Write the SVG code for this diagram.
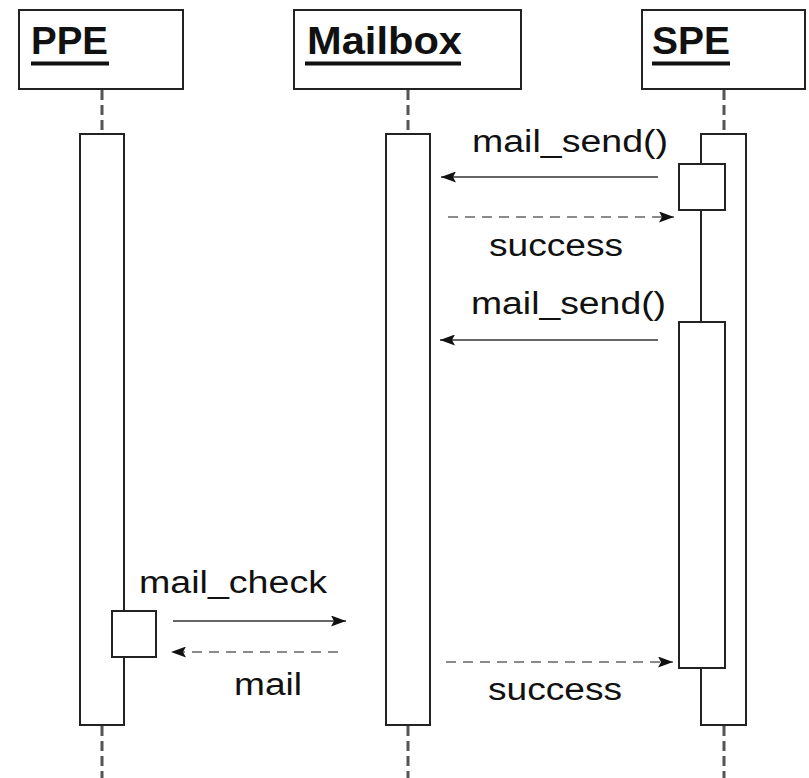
<svg xmlns="http://www.w3.org/2000/svg" width="809" height="778" viewBox="0 0 809 778">
  <style>
    .head { fill: #fff; stroke: #222; stroke-width: 2; }
    .bar { fill: #fff; stroke: #222; stroke-width: 2; }
    .life { stroke: #555; stroke-width: 3; stroke-dasharray: 10 5; fill: none; }
    .title { font-family: "Liberation Sans", Arial, sans-serif; font-weight: bold; font-size: 38px; fill: #111; }
    .uline { stroke: #111; stroke-width: 4; }
    .lbl { font-family: "Liberation Sans", Arial, sans-serif; font-size: 31px; fill: #111; }
    .call { stroke: #333; stroke-width: 1.6; fill: none; }
    .ret { stroke: #666; stroke-width: 1.6; stroke-dasharray: 10 7; fill: none; }
  </style>
  <defs>
    <marker id="arrow" viewBox="0 0 15 11" refX="15" refY="5.5" markerWidth="15" markerHeight="11" markerUnits="userSpaceOnUse" orient="auto">
      <path d="M0,0 L15,5.5 L0,11 L3,5.5 Z" fill="#111"/>
    </marker>
  </defs>
  <rect width="809" height="778" fill="#fff"/>

  <!-- lifelines -->
  <g id="lifelines">
    <line class="life" x1="102" y1="90" x2="102" y2="133"/>
    <line class="life" x1="102" y1="726" x2="102" y2="778"/>
    <line class="life" x1="408" y1="90" x2="408" y2="133"/>
    <line class="life" x1="408" y1="726" x2="408" y2="778"/>
    <line class="life" x1="724" y1="90" x2="724" y2="133"/>
    <line class="life" x1="724" y1="726" x2="724" y2="778"/>
  </g>

  <!-- participant PPE -->
  <g id="ppe">
    <rect class="head" x="19" y="10" width="164" height="79"/>
    <text class="title" x="31" y="54" textLength="77" lengthAdjust="spacingAndGlyphs">PPE</text>
    <line class="uline" x1="31" y1="63.5" x2="109" y2="63.5"/>
    <rect class="bar" x="80" y="134" width="44" height="591"/>
    <rect class="bar" x="112" y="611" width="44" height="46"/>
  </g>

  <!-- participant Mailbox -->
  <g id="mailbox">
    <rect class="head" x="294" y="10" width="227" height="79"/>
    <text class="title" x="307" y="54" textLength="155" lengthAdjust="spacingAndGlyphs">Mailbox</text>
    <line class="uline" x1="305" y1="63.5" x2="461" y2="63.5"/>
    <rect class="bar" x="386" y="134" width="44" height="591"/>
  </g>

  <!-- participant SPE -->
  <g id="spe">
    <rect class="head" x="642" y="10" width="163" height="79"/>
    <text class="title" x="652" y="54" textLength="78" lengthAdjust="spacingAndGlyphs">SPE</text>
    <line class="uline" x1="652" y1="63.5" x2="730" y2="63.5"/>
    <rect class="bar" x="701" y="134" width="45" height="591"/>
    <rect class="bar" x="679" y="164" width="46" height="46"/>
    <rect class="bar" x="679" y="322" width="46" height="346"/>
  </g>

  <!-- messages -->
  <g id="connectors">
    <line class="call" x1="658" y1="177" x2="441" y2="177" marker-end="url(#arrow)"/>
    <line class="ret" x1="448" y1="217" x2="674" y2="217" marker-end="url(#arrow)"/>
    <line class="call" x1="658" y1="340" x2="440" y2="340" marker-end="url(#arrow)"/>
    <line class="ret" x1="446" y1="662" x2="673" y2="662" marker-end="url(#arrow)"/>
    <line class="call" x1="173" y1="621" x2="346" y2="621" marker-end="url(#arrow)"/>
    <line class="ret" x1="338" y1="652" x2="171" y2="652" marker-end="url(#arrow)"/>
  </g>

  <!-- message labels -->
  <g id="labels">
    <text class="lbl" x="472" y="152" textLength="196" lengthAdjust="spacingAndGlyphs">mail_send()</text>
    <text class="lbl" x="489" y="256" textLength="134" lengthAdjust="spacingAndGlyphs">success</text>
    <text class="lbl" x="471" y="314" textLength="195" lengthAdjust="spacingAndGlyphs">mail_send()</text>
    <text class="lbl" x="488" y="700" textLength="134" lengthAdjust="spacingAndGlyphs">success</text>
    <text class="lbl" x="139" y="593" textLength="188" lengthAdjust="spacingAndGlyphs">mail_check</text>
    <text class="lbl" x="234" y="695" textLength="68" lengthAdjust="spacingAndGlyphs">mail</text>
  </g>
</svg>
